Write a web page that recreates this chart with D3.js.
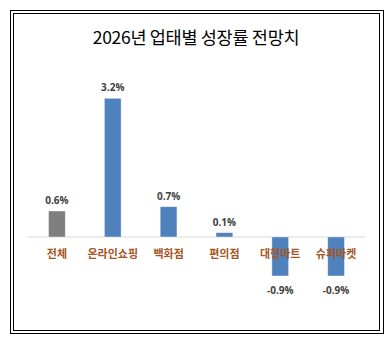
<!DOCTYPE html>
<html><head><meta charset="utf-8">
<script src="https://cdn.jsdelivr.net/npm/d3@7"></script>
<style>body{margin:0;background:#fff}svg{display:block}</style>
</head><body>
<script>
const categories = ["전체","온라인쇼핑","백화점","편의점","대형마트","슈퍼마켓"];
const values = [0.6, 3.2, 0.7, 0.1, -0.9, -0.9];
const labels = ["0.6%","3.2%","0.7%","0.1%","-0.9%","-0.9%"];
const colors = ["#7F7F7F","#4F81BD","#4F81BD","#4F81BD","#4F81BD","#4F81BD"];
const title = "2026년 업태별 성장률 전망치";

const W = 392, H = 348;
const svg = d3.select("body").append("svg").attr("width", W).attr("height", H);
svg.append("rect").attr("x",0).attr("y",0).attr("width",W).attr("height",H).attr("fill","#fff");
// double frame
svg.append("rect").attr("x",10.5).attr("y",10.5).attr("width",373).attr("height",323)
  .attr("fill","none").attr("stroke","#000").attr("stroke-width",1).attr("shape-rendering","crispEdges");
svg.append("rect").attr("x",13.5).attr("y",13.5).attr("width",366).attr("height",317)
  .attr("fill","none").attr("stroke","#000").attr("stroke-width",1).attr("shape-rendering","crispEdges");

svg.append("text").attr("x",196).attr("y",44).attr("text-anchor","middle")
  .attr("font-family","'Noto Sans CJK KR', sans-serif").attr("font-size",17.5)
  .attr("letter-spacing",-0.3).attr("fill","#000").text(title);

const x = d3.scaleBand().domain(categories).range([29, 364]).paddingInner(0.7).paddingOuter(0.35);
const y = d3.scaleLinear().domain([-0.9, 3.2]).range([276, 98.3]);

svg.append("line").attr("x1",28).attr("x2",365).attr("y1",y(0)).attr("y2",y(0))
  .attr("stroke","#D9D9D9").attr("stroke-width",1);

svg.selectAll("rect.bar").data(values).join("rect").attr("class","bar")
  .attr("x",(d,i)=>x(categories[i]))
  .attr("width",x.bandwidth())
  .attr("y",d=>y(Math.max(0,d)))
  .attr("height",d=>Math.abs(y(d)-y(0)))
  .attr("fill",(d,i)=>colors[i])
  .attr("stroke","#fff").attr("stroke-opacity",0.5).attr("stroke-width",0.8);

svg.selectAll("text.cat").data(categories).join("text").attr("class","cat")
  .attr("x",d=>x(d)+x.bandwidth()/2).attr("y",258)
  .attr("text-anchor","middle")
  .attr("font-family","'Noto Sans CJK KR', sans-serif").attr("font-weight","bold")
  .attr("font-size",11).attr("fill","#A5561F").text(d=>d);

svg.selectAll("text.val").data(values).join("text").attr("class","val")
  .attr("x",(d,i)=>x(categories[i])+x.bandwidth()/2)
  .attr("y",d=> d>=0 ? y(d)-7 : y(d)+18)
  .attr("text-anchor","middle")
  .attr("font-family","'Open Sans', sans-serif").attr("font-weight","bold")
  .attr("font-size",10).attr("fill","#404040").text((d,i)=>labels[i]);
</script>
</body></html>
